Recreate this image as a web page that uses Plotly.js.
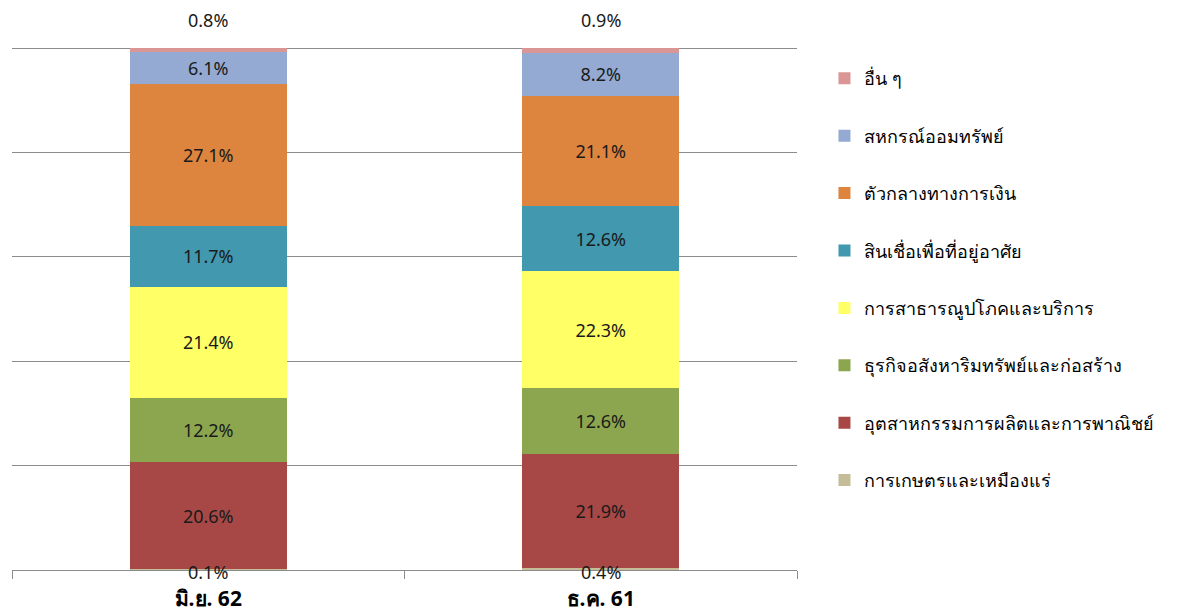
<!DOCTYPE html>
<html>
<head>
<meta charset="utf-8">
<script src="https://cdn.plot.ly/plotly-3.0.1.min.js"></script>
<style>html,body{margin:0;padding:0;background:#fff;}#chart{width:1188px;height:614px;}</style>
</head>
<body>
<div id="chart"></div>
<script>
const categories = ["มิ.ย. 62", "ธ.ค. 61"];
const seriesNames = [
  "การเกษตรและเหมืองแร่",
  "อุตสาหกรรมการผลิตและการพาณิชย์",
  "ธุรกิจอสังหาริมทรัพย์และก่อสร้าง",
  "การสาธารณูปโภคและบริการ",
  "สินเชื่อเพื่อที่อยู่อาศัย",
  "ตัวกลางทางการเงิน",
  "สหกรณ์ออมทรัพย์",
  "อื่น ๆ"
];
const agriculture = [0.1, 0.4];
const manufacturing = [20.6, 21.9];
const realEstate = [12.2, 12.6];
const utilities = [21.4, 22.3];
const housing = [11.7, 12.6];
const financial = [27.1, 21.1];
const cooperatives = [6.1, 8.2];
const others = [0.8, 0.9];
const seriesValues = [agriculture, manufacturing, realEstate, utilities, housing, financial, cooperatives, others];
const colors = ["#C4BD97", "#A84846", "#8CA64F", "#FFFF66", "#4198AF", "#DD843E", "#94AAD2", "#D99694"];

const FONT = "Tahoma, 'Noto Sans', 'DejaVu Sans', sans-serif";
const traces = seriesValues.map((vals, i) => {
  const small = i === 0 || i === seriesValues.length - 1;
  return {
    type: "bar",
    name: seriesNames[i],
    x: categories,
    y: vals,
    marker: {color: colors[i], line: {width: 0}},
    text: small ? vals.map(() => "") : vals.map(v => v.toFixed(1) + "%"),
    textposition: "inside",
    insidetextanchor: "middle",
    textangle: 0,
    textfont: {family: FONT, size: 18, color: "#1a1a1a"},
    constraintext: "none",
    hoverinfo: "skip",
    legendgroup: "g" + i,
    legendrank: 100 - i
  };
});

const annotations = [];
categories.forEach((c, j) => {
  annotations.push({x: c, y: 0, text: agriculture[j].toFixed(1) + "%", showarrow: false,
    yanchor: "middle", yshift: -2, font: {family: FONT, size: 18, color: "#1a1a1a"}});
  const total = seriesValues.reduce((s, arr) => s + arr[j], 0);
  annotations.push({x: c, y: total, text: others[j].toFixed(1) + "%", showarrow: false,
    yanchor: "middle", yshift: 28, font: {family: FONT, size: 18, color: "#1a1a1a"}});
});

const layout = {
  width: 1188, height: 614,
  margin: {l: 12, r: 391, t: 47, b: 44},
  barmode: "stack",
  bargap: 0.6,
  paper_bgcolor: "#fff", plot_bgcolor: "#fff",
  font: {family: FONT, size: 18, color: "#000"},
  xaxis: {
    showline: true, linecolor: "#8c8c8c", linewidth: 1,
    ticks: "outside", tickson: "boundaries", ticklen: 8, tickcolor: "#8c8c8c",
    tickfont: {family: FONT, size: 21, color: "#000", weight: "bold"},
    ticklabelstandoff: 10,
    showgrid: false, fixedrange: true
  },
  yaxis: {
    range: [0, 100.2], tickvals: [20, 40, 60, 80, 100], showticklabels: false,
    showgrid: true, gridcolor: "#8c8c8c", gridwidth: 1,
    zeroline: false, showline: false, fixedrange: true
  },
  legend: {
    x: 1.035, xanchor: "left", y: 0.975, yanchor: "top",
    traceorder: "grouped", tracegroupgap: 31,
    font: {family: FONT, size: 18, color: "#000"},
    itemwidth: 30
  },
  showlegend: true,
  annotations: annotations
};

Plotly.newPlot("chart", traces, layout, {displayModeBar: false, staticPlot: true});
</script>
</body>
</html>
